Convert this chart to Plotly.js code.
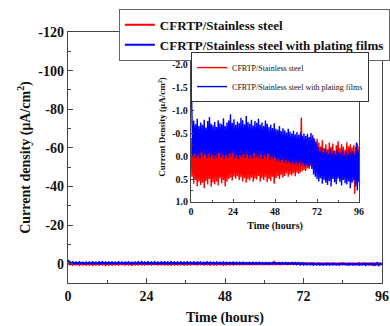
<!DOCTYPE html>
<html><head><meta charset="utf-8">
<script src="https://cdn.plot.ly/plotly-3.0.1.min.js"></script>
<style>html,body{margin:0;padding:0;background:#fff}</style>
</head><body><div id="chart" style="width:390px;height:326px"></div>
<script>
const seriesNames = ["CFRTP/Stainless steel", "CFRTP/Stainless steel with plating films"];
const sampleStepHours = 0.5;
const stainless = [-0.40, 0.45,
 -0.30, 0.60, -0.22, 0.52, -0.18, 0.66, -0.25, 0.55,
 -0.12, 0.63, -0.20, 0.58, -0.15, 0.70, -0.10, 0.54,
 -0.18, 0.62, -0.28, 0.50, -0.14, 0.67, -0.21, 0.57,
 -0.24, 0.61, -0.16, 0.55, -0.30, 0.64, -0.19, 0.48,
 -0.13, 0.59, -0.22, 0.52, -0.17, 0.66, -0.25, 0.56,
 -0.15, 0.50, -0.20, 0.47, -0.26, 0.53, -0.18, 0.45,
 -0.22, 0.49, -0.14, 0.44, -0.19, 0.52, -0.11, 0.46,
 -0.17, 0.55, -0.23, 0.48, -0.12, 0.58, -0.20, 0.50,
 -0.16, 0.53, -0.09, 0.47, -0.21, 0.56, -0.13, 0.49,
 -0.18, 0.51, -0.24, 0.44, -0.15, 0.55, -0.10, 0.48,
 -0.20, 0.52, -0.14, 0.46, -0.22, 0.57, -0.17, 0.50,
 -0.12, 0.54, -0.19, 0.45, -0.08, 0.60, -0.15, 0.48,
 -0.18, 0.44, -0.10, 0.50, -0.22, 0.41, -0.14, 0.47,
 -0.20, 0.43, -0.12, 0.38, -0.25, 0.45, -0.16, 0.40,
 -0.21, 0.42, -0.13, 0.37, -0.26, 0.44, -0.18, 0.36,
 -0.24, 0.39, -0.15, 0.35, -0.85, 0.33, -0.22, 0.30,
 -0.28, 0.32, -0.20, 0.26, -0.33, 0.28, -0.25, 0.22,
 -0.36, 0.18, -0.40, 0.12, -0.32, 0.15, -0.38, 0.20,
 -0.30, 0.25, -0.22, 0.30, -0.35, 0.22, -0.18, 0.28,
 -0.26, 0.32, -0.15, 0.24, -0.30, 0.35, -0.20, 0.27,
 -0.28, 0.30, -0.12, 0.36, -0.24, 0.25, -0.33, 0.31,
 -0.18, 0.38, -0.27, 0.29, -0.21, 0.40, -0.14, 0.33,
 -0.30, 0.36, -0.22, 0.42, -0.26, 0.34, -0.19, 0.45,
 -0.25, 0.82, -0.20, 0.40, -0.28, 0.37, -0.22];
const plated = [-1.80, -1.00,
 0.02, -0.78, -0.05, -0.70, 0.04, -0.82, -0.02, -0.66,
 0.05, -0.74, -0.08, -0.69, 0.01, -0.80, -0.04, -0.63,
 0.03, -0.77, -0.06, -0.86, 0.02, -0.71, -0.03, -0.68,
 0.06, -0.75, -0.01, -0.64, 0.04, -0.79, -0.07, -0.72,
 0.02, -0.70, -0.04, -0.83, 0.05, -0.66, -0.02, -0.74,
 0.03, -0.78, -0.05, -0.92, 0.01, -0.73, -0.06, -0.81,
 0.04, -0.69, -0.03, -0.76, 0.06, -0.72, -0.01, -0.84,
 0.02, -0.79, -0.05, -0.70, 0.03, -0.88, -0.04, -0.75,
 0.05, -0.71, -0.02, -0.80, 0.04, -0.67, -0.06, -0.77,
 0.03, -0.73, -0.01, -0.82, 0.05, -0.69, -0.03, -0.74,
 0.06, -0.66, -0.04, -0.78, 0.02, -0.71, -0.05, -0.64,
 0.08, -0.69, 0.01, -0.62, 0.07, -0.72, 0.03, -0.60,
 0.10, -0.58, 0.06, -0.66, 0.12, -0.55, 0.08, -0.61,
 0.14, -0.57, 0.09, -0.52, 0.15, -0.60, 0.11, -0.54,
 0.16, -0.50, 0.12, -0.56, 0.18, -0.48, 0.13, -0.53,
 0.19, -0.47, 0.14, -0.52, 0.20, -0.45, 0.16, -0.50,
 0.21, -0.44, 0.17, -0.49, 0.23, -0.42, 0.19, -0.51,
 0.28, -0.46, 0.40, -0.38, 0.45, -0.30, 0.50, -0.20,
 0.55, -0.12, 0.48, -0.18, 0.60, -0.08, 0.52, -0.15,
 0.58, -0.10, 0.63, -0.05, 0.54, -0.16, 0.66, -0.07,
 0.50, -0.12, 0.57, -0.03, 0.61, -0.14, 0.49, -0.09,
 0.56, -0.06, 0.64, -0.13, 0.52, -0.02, 0.59, -0.10,
 0.62, -0.04, 0.55, -0.15, 0.70, -0.08, 0.58, -0.11,
 0.53, -0.05, 0.66, -0.30, 0.75, -0.12, 0.57];
const time = stainless.map((_, i) => i * sampleStepHours);

const xTicks = [0, 24, 48, 72, 96];
const xMinorTicks = [12, 36, 60, 84];
const mainYTicks = [-120, -100, -80, -60, -40, -20, 0];
const mainYTickText = ["-120", "-100", "-80", "-60", "-40", "-20", "0"];
const mainYMinor = [-110, -90, -70, -50, -30, -10, 10];
const insetYTicks = [-2, -1.5, -1, -0.5, 0, 0.5, 1];
const insetYTickText = ["-2.0", "-1.5", "-1.0", "-0.5", "0.0", "0.5", "1.0"];
const insetYMinor = [-1.75, -1.25, -0.75, -0.25, 0.25, 0.75];

const serif = "Liberation Serif, Times New Roman, serif";
const axisColor = "#444";
const bold = (s) => ({family: serif, size: s, color: "#111", weight: "bold"});

const traces = [
  {x: time, y: stainless, xaxis: "x", yaxis: "y", type: "scatter", mode: "lines",
   name: seriesNames[0], line: {color: "#ff0000", width: 2}, legend: "legend"},
  {x: time, y: plated, xaxis: "x", yaxis: "y", type: "scatter", mode: "lines",
   name: seriesNames[1], line: {color: "#0000ff", width: 2}, legend: "legend"},
  {x: time, y: stainless, xaxis: "x2", yaxis: "y2", type: "scatter", mode: "lines",
   name: seriesNames[0], line: {color: "#ff0000", width: 1.4}, legend: "legend2"},
  {x: time, y: plated, xaxis: "x2", yaxis: "y2", type: "scatter", mode: "lines",
   name: seriesNames[1], line: {color: "#0000ff", width: 1.4}, legend: "legend2"}
];

const axBase = {showline: true, linecolor: axisColor, linewidth: 1.2, mirror: true,
  showgrid: false, zeroline: false, ticks: "inside", tickcolor: axisColor, tickwidth: 1};

const layout = {
  width: 390, height: 326,
  margin: {l: 68, r: 8, t: 32, b: 43, autoexpand: false},
  paper_bgcolor: "#fff", plot_bgcolor: "#fff",
  xaxis: Object.assign({}, axBase, {domain: [0, 1], anchor: "y", range: [0, 96],
    tickmode: "array", tickvals: xTicks, ticklen: 5, tickfont: bold(14),
    minor: {tickvals: xMinorTicks, ticklen: 3, ticks: "inside", tickcolor: axisColor},
    title: {text: "Time (hours)", font: bold(14), standoff: 10}}),
  yaxis: Object.assign({}, axBase, {domain: [0, 1], anchor: "x", range: [10, -120],
    tickmode: "array", tickvals: mainYTicks, ticktext: mainYTickText, ticklen: 5, tickfont: bold(14),
    minor: {tickvals: mainYMinor, ticklen: 3, ticks: "inside", tickcolor: axisColor},
    title: {text: "Current density (μA/cm<sup>2</sup>)", font: bold(14), standoff: 4}}),
  xaxis2: Object.assign({}, axBase, {domain: [0.392, 0.927], anchor: "y2", range: [0, 96],
    tickmode: "array", tickvals: xTicks, ticklen: 3, tickfont: bold(10),
    minor: {tickvals: xMinorTicks, ticklen: 2, ticks: "inside", tickcolor: axisColor},
    title: {text: "Time (hours)", font: bold(10), standoff: 5}}),
  yaxis2: Object.assign({}, axBase, {domain: [0.323, 0.92], anchor: "x2", range: [1, -2.28],
    tickmode: "array", tickvals: insetYTicks, ticktext: insetYTickText, ticklen: 3, tickfont: bold(10),
    minor: {tickvals: insetYMinor, ticklen: 2, ticks: "inside", tickcolor: axisColor},
    title: {text: "Current Density (μA/cm<sup>2</sup>)", font: bold(9), standoff: 4}}),
  legend: {x: 0.162, y: 1.092, xanchor: "left", yanchor: "top", bgcolor: "#fff",
    bordercolor: "#666", borderwidth: 1, font: bold(13), tracegroupgap: 0},
  legend2: {x: 0.392, y: 0.92, xanchor: "left", yanchor: "top", bgcolor: "#fff",
    bordercolor: "#333", borderwidth: 1, font: {family: serif, size: 8, color: "#111"}, tracegroupgap: 0},
  showlegend: true
};

Plotly.newPlot("chart", traces, layout, {staticPlot: true, displayModeBar: false});
</script></body></html>
